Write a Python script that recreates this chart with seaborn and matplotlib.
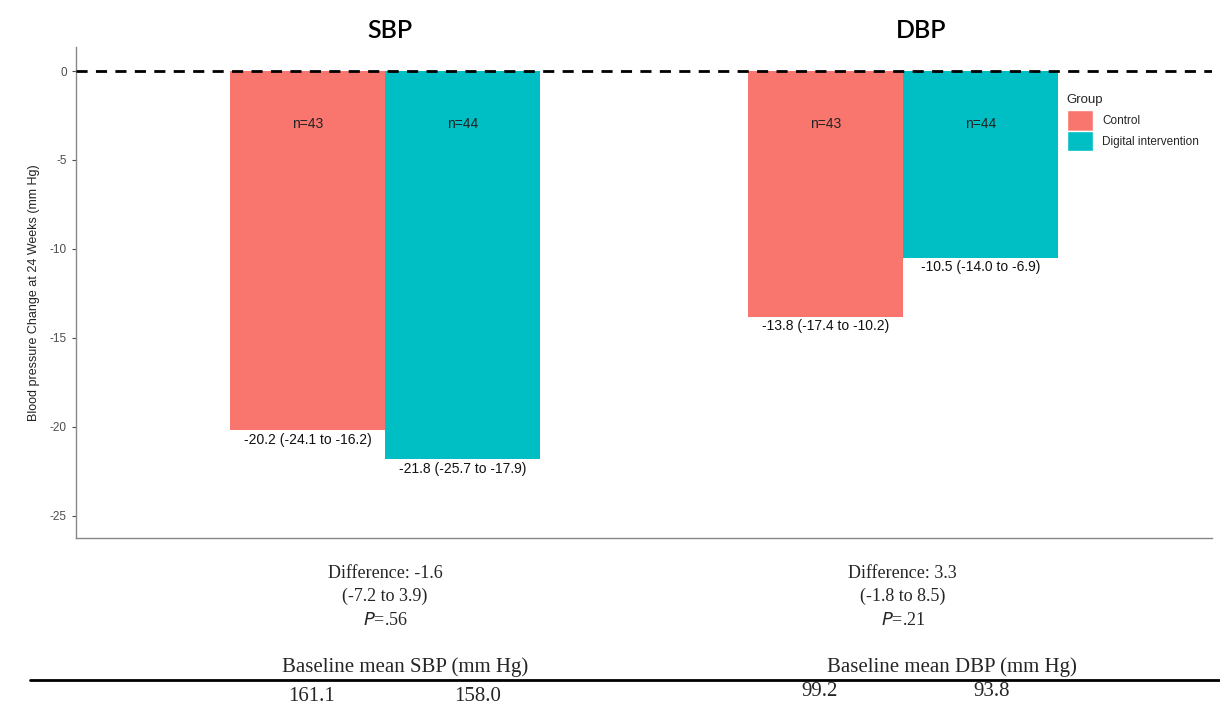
import numpy as np
import pandas as pd
import seaborn as sns
import matplotlib.pyplot as plt
from matplotlib.transforms import blended_transform_factory
from matplotlib.patches import Patch

measures = ["SBP", "SBP", "DBP", "DBP"]
groups = ["Control", "Digital intervention", "Control", "Digital intervention"]
change = [-20.2, -21.8, -13.8, -10.5]
ci_low = [-24.1, -25.7, -17.4, -14.0]
ci_high = [-16.2, -17.9, -10.2, -6.9]
n_obs = [43, 44, 43, 44]

diff_labels = ["Difference: -1.6\n(-7.2 to 3.9)", "Difference: 3.3\n(-1.8 to 8.5)"]
p_labels = [".56", ".21"]
baseline_titles = ["Baseline mean SBP (mm Hg)", "Baseline mean DBP (mm Hg)"]
baseline_vals = [["161.1", "158.0"], ["99.2", "93.8"]]

palette = {"Control": "#F8766D", "Digital intervention": "#00BFC4"}

df = pd.DataFrame({"measure": measures, "group": groups, "change": change,
                   "lo": ci_low, "hi": ci_high, "n": n_obs})

sns.set_style("white")
plt.rcParams["font.family"] = ["Liberation Sans", "DejaVu Sans"]
fig = plt.figure(figsize=(12.2, 7.08), dpi=100)
ax = fig.add_axes([0.0623, 0.2401, 0.9311, 0.6935])

sns.barplot(data=df, x="measure", y="change", hue="group", palette=palette,
            width=0.6, gap=0, errorbar=None, saturation=1, linewidth=0,
            ax=ax, legend=False)

ax.set_xlim(-0.597, 1.597)
ax.set_ylim(-26.25, 1.35)
ax.set_yticks([0, -5, -10, -15, -20, -25])
ax.set_yticklabels(["0", "-5", "-10", "-15", "-20", "-25"])
ax.tick_params(axis="y", labelsize=8.5, colors="#4d4d4d", length=3, width=0.8, direction="out", left=True)
ax.set_xticks([])
ax.set_xlabel("")
ax.set_ylabel("Blood pressure Change at 24 Weeks (mm Hg)", fontsize=9, color="#222222", labelpad=7)
for s in ["top", "right"]:
    ax.spines[s].set_visible(False)
for s in ["left", "bottom"]:
    ax.spines[s].set_color("#888888")
    ax.spines[s].set_linewidth(1.0)

ax.axhline(0, color="black", lw=2, ls=(0, (4, 3)), zorder=5)

# bar annotations
cats = ["SBP", "DBP"]
grp_order = ["Control", "Digital intervention"]
for _, row in df.iterrows():
    xc = cats.index(row["measure"]) + (-0.15 if row["group"] == "Control" else 0.15)
    ax.text(xc, -3, f"n={row['n']}", ha="center", va="center", fontsize=10, color="#222222")
    ax.text(xc, row["change"] - 0.15, f"{row['change']:.1f} ({row['lo']:.1f} to {row['hi']:.1f})",
            ha="center", va="top", fontsize=10, color="#111111")

# panel titles
tr = blended_transform_factory(ax.transData, fig.transFigure)
for x, lab in [(0.01, "SBP"), (1.035, "DBP")]:
    ax.text(x, 0.957, lab, transform=tr, ha="center", va="center", fontsize=18,
            family=["Lato", "DejaVu Sans"], fontweight="semibold", color="black")

# legend
handles = [Patch(facecolor=palette[g], edgecolor="white", linewidth=1) for g in grp_order]
leg = ax.legend(handles, grp_order, title="Group", loc="upper left",
                bbox_to_anchor=(1062 / 1220, 0.874), bbox_transform=fig.transFigure,
                frameon=False, fontsize=8.5, title_fontsize=9.5, handlelength=2.2,
                handleheight=2.3, handletextpad=0.8, labelspacing=0.0, borderaxespad=0)
leg._legend_box.align = "left"
leg._legend_box.sep = 3

# text below the plot
serif = "Liberation Serif"
for i, x in enumerate([0, 1]):
    ax.text(x, 0.174, diff_labels[i], transform=tr, ha="center", va="center",
            fontsize=13, family=serif, linespacing=1.45)
    ax.text(x, 0.124, "$\\it{P}$" + "=" + p_labels[i], transform=tr, ha="center",
            va="center", fontsize=13, family=serif)
fig.text(405 / 1220, 0.058, baseline_titles[0], ha="center", va="center", fontsize=15, family=serif)
fig.text(952 / 1220, 0.058, baseline_titles[1], ha="center", va="center", fontsize=15, family=serif)
fig.add_artist(plt.Line2D([30 / 1220, 1.0], [0.040, 0.040], color="black", lw=2))
for xs, vals, yy in [([312, 478], baseline_vals[0], 0.016), ([820, 992], baseline_vals[1], 0.024)]:
    for xp, v in zip(xs, vals):
        fig.text(xp / 1220, yy, v, ha="center", va="center", fontsize=15, family=serif)

fig.savefig("out.png", dpi=100)
